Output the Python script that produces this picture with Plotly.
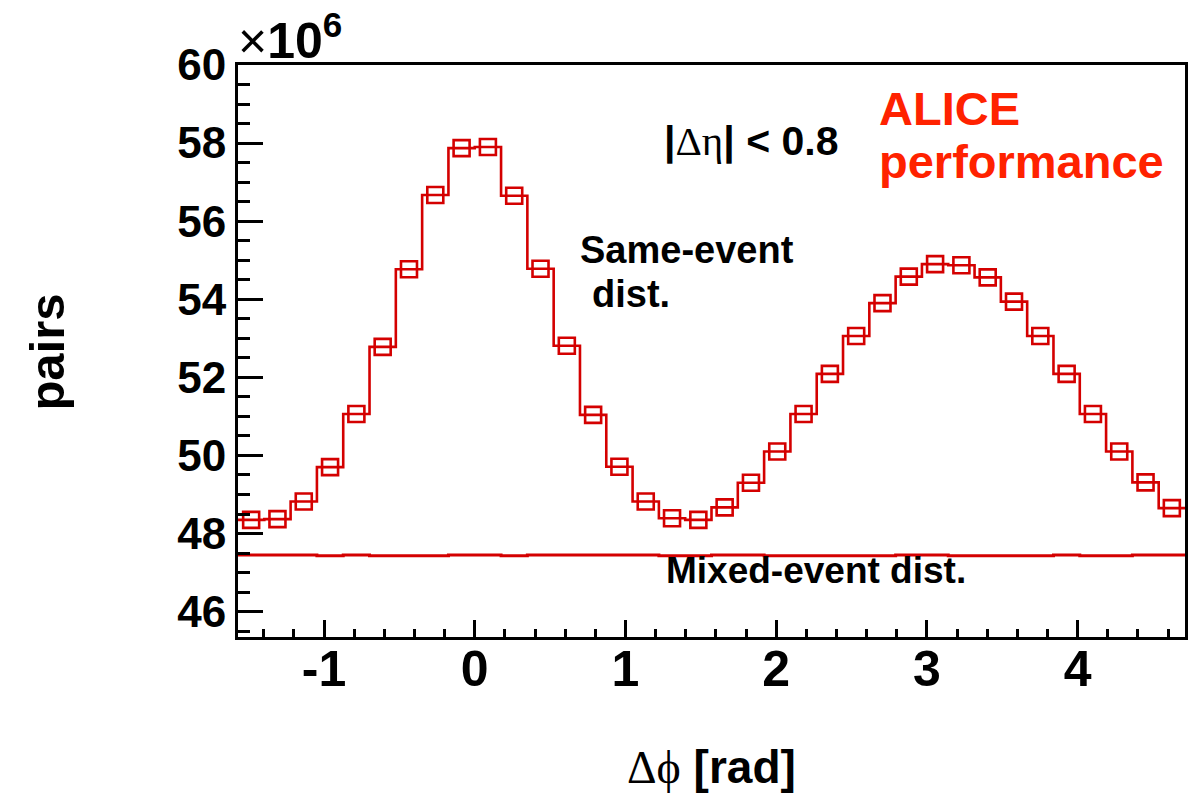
import numpy as np
import plotly.graph_objects as go

# ---- data ----
n_bins = 36
phi_min, phi_max = -np.pi / 2, 3 * np.pi / 2

same_event = [48.35, 48.37, 48.82, 49.70, 51.06, 52.78, 54.77, 56.67, 57.87, 57.90,
              56.65, 54.78, 52.81, 51.04, 49.71, 48.82, 48.39, 48.35, 48.67, 49.30,
              50.10, 51.06, 52.09, 53.06, 53.90, 54.58, 54.90, 54.87, 54.56, 53.94,
              53.06, 52.09, 51.06, 50.10, 49.31, 48.65]

mixed_event = [47.45, 47.45, 47.45, 47.43, 47.45, 47.43, 47.43, 47.43, 47.45, 47.45,
               47.43, 47.45, 47.45, 47.45, 47.45, 47.45, 47.43, 47.43, 47.45, 47.45,
               47.43, 47.43, 47.43, 47.43, 47.43, 47.45, 47.45, 47.43, 47.43, 47.43,
               47.43, 47.45, 47.43, 47.43, 47.45, 47.45]

x_ticks = [-1, 0, 1, 2, 3, 4]
y_ticks = [46, 48, 50, 52, 54, 56, 58, 60]

# ---- derived bin structure ----
edges = np.linspace(phi_min, phi_max, n_bins + 1)
centers = 0.5 * (edges[:-1] + edges[1:])

def step_xy(vals):
    xs = list(edges)
    ys = list(vals) + [vals[-1]]
    return xs, ys

RED = "#d40000"
FONT = "Liberation Sans"

fig = go.Figure()

mx, my = step_xy(mixed_event)
fig.add_trace(go.Scatter(x=mx, y=my, mode="lines", line=dict(color=RED, width=3, shape="hv"),
                         showlegend=False, hoverinfo="skip"))

sx, sy = step_xy(same_event)
fig.add_trace(go.Scatter(x=sx, y=sy, mode="lines", line=dict(color=RED, width=2.6, shape="hv"),
                         showlegend=False, hoverinfo="skip"))
fig.add_trace(go.Scatter(x=centers, y=same_event, mode="markers",
                         marker=dict(symbol="square-open", size=16, color=RED,
                                     line=dict(color=RED, width=2.6)),
                         showlegend=False))

fig.update_layout(
    width=1200, height=794,
    margin=dict(l=238, r=12, t=65, b=157),
    paper_bgcolor="white", plot_bgcolor="white",
    font=dict(family=FONT, color="black", weight="bold"),
)

fig.update_xaxes(
    range=[phi_min, phi_max],
    tickvals=x_ticks, ticktext=[str(v) for v in x_ticks],
    ticks="inside", ticklen=17, tickwidth=2.5, tickcolor="black",
    minor=dict(dtick=0.2, tick0=0, ticks="inside", ticklen=8, tickwidth=2.5, tickcolor="black"),
    showline=True, linewidth=3, linecolor="black", mirror=True,
    showgrid=False, zeroline=False,
    ticklabelstandoff=-14,
    tickfont=dict(family=FONT, size=50, color="black", weight="bold"),
)
fig.update_yaxes(
    range=[45.35, 60],
    tickvals=y_ticks, ticktext=[str(v) for v in y_ticks],
    ticks="inside", ticklen=25, tickwidth=2.5, tickcolor="black",
    minor=dict(dtick=0.5, tick0=46, ticks="inside", ticklen=12, tickwidth=2.5, tickcolor="black"),
    showline=True, linewidth=3, linecolor="black", mirror=True,
    showgrid=False, zeroline=False,
    ticklabelstandoff=0,
    tickfont=dict(family=FONT, size=44, color="black", weight="bold"),
)

def yd(py):
    return 60 - (py - 65.2) / 39.03

def xd(px):
    return (px - 476) / 151

annotations = [
    dict(text="pairs", x=(46 - 238) / 950, y=(637 - 352) / 572, xref="paper", yref="paper",
         showarrow=False, textangle=-90, xanchor="center", yanchor="middle",
         font=dict(size=49)),
    dict(text="<span style='font-family:Liberation Serif;font-weight:normal'>Δϕ</span> [rad]",
         x=0.5, y=-0.227, xref="paper", yref="paper", showarrow=False,
         xanchor="center", yanchor="middle", font=dict(size=46)),
    dict(text="<span style='font-weight:normal'>×</span>10<sup>6</sup>",
         x=phi_min, y=60, xref="x", yref="y", showarrow=False,
         xanchor="left", yanchor="bottom", yshift=-6, xshift=-2, font=dict(size=50)),
    dict(text="|<span style='font-family:Liberation Serif;font-weight:normal'>Δη</span>| < 0.8",
         x=xd(753), y=yd(141), xref="x", yref="y", showarrow=False,
         xanchor="center", yanchor="middle", font=dict(size=41)),
    dict(text="ALICE", x=xd(879), y=yd(108.5), xref="x", yref="y",
         showarrow=False, xanchor="left", yanchor="middle",
         font=dict(size=47, color="#ff2200")),
    dict(text="performance", x=xd(879), y=yd(161.5), xref="x", yref="y",
         showarrow=False, xanchor="left", yanchor="middle",
         font=dict(size=47, color="#ff2200")),
    dict(text="Same-event", x=xd(579), y=yd(250), xref="x", yref="y",
         showarrow=False, xanchor="left", yanchor="middle", font=dict(size=38)),
    dict(text="dist.", x=xd(591), y=yd(294), xref="x", yref="y",
         showarrow=False, xanchor="left", yanchor="middle", font=dict(size=38)),
    dict(text="Mixed-event dist.", x=xd(666), y=yd(570.5),
         xref="x", yref="y", showarrow=False, xanchor="left", yanchor="middle",
         font=dict(size=37)),
]
fig.update_layout(annotations=annotations)

fig.write_html("out.html")
